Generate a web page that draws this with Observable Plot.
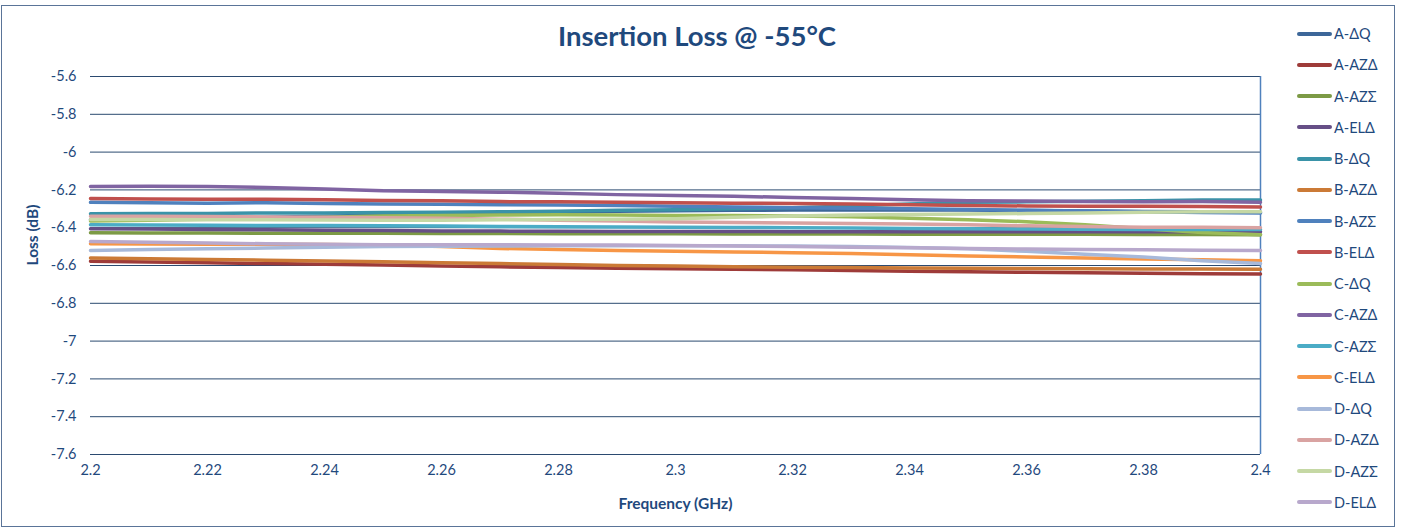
<!DOCTYPE html>
<html>
<head>
<meta charset="utf-8">
<script src="https://cdn.jsdelivr.net/npm/d3@7"></script>
<script src="https://cdn.jsdelivr.net/npm/@observablehq/plot@0.6"></script>
<style>
  html, body { margin: 0; padding: 0; background: #fff; }
  #wrap { position: relative; width: 1406px; height: 529px; overflow: hidden; font-family: Lato, "Noto Sans", sans-serif; }
  #frame { position: absolute; left: 1px; top: 5px; width: 1394px; height: 522px; border: 1px solid #5a7498; box-sizing: border-box; }
  #title { position: absolute; left: 0; width: 1394px; top: 19px; text-align: center; font-weight: bold; font-size: 27.5px; color: #1F497D; }
  #chart { position: absolute; left: 0; top: 0; }
  #legend { position: absolute; left: 1297px; top: 18px; }
  .item { height: 31.25px; display: flex; align-items: center; font-size: 14.5px; color: #1F497D; }
  .sw { width: 35px; height: 4px; border-radius: 2px; margin-right: 2px; }
</style>
</head>
<body>
<div id="wrap">
  <div id="frame"></div>
  <div id="chart"></div>
  <div id="title">Insertion Loss @ -55°C</div>
  <div id="legend"></div>
</div>
<script>
const freq = [2.20,2.21,2.22,2.23,2.24,2.25,2.26,2.27,2.28,2.29,2.30,2.31,2.32,2.33,2.34,2.35,2.36,2.37,2.38,2.39,2.40];

const seriesNames = ["A-ΔQ","A-AZΔ","A-AZΣ","A-ELΔ","B-ΔQ","B-AZΔ","B-AZΣ","B-ELΔ","C-ΔQ","C-AZΔ","C-AZΣ","C-ELΔ","D-ΔQ","D-AZΔ","D-AZΣ","D-ELΔ"];
const seriesColors = ["#3D6799","#9E3B39","#7C9A45","#664F86","#3A93A8","#CB7A36","#4F81BD","#C0504D","#9BBB59","#8064A2","#4BACC6","#F79646","#A7B9DA","#D9A3A2","#C5D8A4","#B8A8CC"];

const A_dQ   = [-6.358,-6.355,-6.350,-6.345,-6.340,-6.333,-6.328,-6.322,-6.318,-6.313,-6.310,-6.308,-6.307,-6.306,-6.306,-6.307,-6.309,-6.311,-6.314,-6.316,-6.318];
const A_AZd  = [-6.578,-6.582,-6.585,-6.590,-6.594,-6.598,-6.603,-6.607,-6.610,-6.614,-6.617,-6.620,-6.623,-6.627,-6.630,-6.633,-6.636,-6.638,-6.641,-6.643,-6.645];
const A_AZs  = [-6.427,-6.428,-6.428,-6.429,-6.430,-6.430,-6.431,-6.431,-6.432,-6.432,-6.432,-6.433,-6.433,-6.433,-6.434,-6.434,-6.435,-6.435,-6.436,-6.436,-6.437];
const A_ELd  = [-6.406,-6.407,-6.409,-6.411,-6.413,-6.415,-6.417,-6.418,-6.419,-6.420,-6.420,-6.420,-6.421,-6.421,-6.421,-6.421,-6.421,-6.422,-6.422,-6.422,-6.422];
const B_dQ   = [-6.326,-6.325,-6.325,-6.322,-6.322,-6.320,-6.318,-6.316,-6.313,-6.308,-6.305,-6.300,-6.295,-6.285,-6.275,-6.266,-6.263,-6.260,-6.257,-6.254,-6.253];
const B_AZd  = [-6.560,-6.564,-6.568,-6.572,-6.576,-6.580,-6.585,-6.590,-6.595,-6.600,-6.603,-6.606,-6.609,-6.611,-6.613,-6.615,-6.616,-6.617,-6.618,-6.619,-6.620];
const B_AZs  = [-6.266,-6.268,-6.270,-6.268,-6.272,-6.274,-6.276,-6.278,-6.280,-6.283,-6.286,-6.290,-6.294,-6.297,-6.300,-6.304,-6.308,-6.312,-6.316,-6.320,-6.322];
const B_ELd  = [-6.245,-6.248,-6.250,-6.249,-6.252,-6.256,-6.258,-6.262,-6.263,-6.266,-6.268,-6.270,-6.272,-6.275,-6.278,-6.282,-6.285,-6.287,-6.286,-6.288,-6.290];
const C_dQ   = [-6.365,-6.360,-6.355,-6.350,-6.345,-6.338,-6.335,-6.333,-6.332,-6.333,-6.335,-6.336,-6.338,-6.342,-6.350,-6.358,-6.368,-6.385,-6.405,-6.425,-6.437];
const C_AZd  = [-6.182,-6.181,-6.182,-6.187,-6.195,-6.205,-6.208,-6.212,-6.218,-6.225,-6.230,-6.234,-6.240,-6.246,-6.252,-6.258,-6.259,-6.262,-6.263,-6.262,-6.265];
const C_AZs  = [-6.385,-6.386,-6.387,-6.388,-6.389,-6.390,-6.391,-6.393,-6.395,-6.396,-6.397,-6.399,-6.400,-6.402,-6.404,-6.406,-6.407,-6.408,-6.409,-6.410,-6.410];
const C_ELd  = [-6.485,-6.486,-6.487,-6.488,-6.489,-6.492,-6.500,-6.510,-6.515,-6.520,-6.525,-6.528,-6.532,-6.537,-6.543,-6.550,-6.555,-6.560,-6.565,-6.570,-6.575];
const D_dQ   = [-6.520,-6.516,-6.512,-6.508,-6.504,-6.500,-6.498,-6.497,-6.496,-6.495,-6.495,-6.496,-6.497,-6.500,-6.505,-6.512,-6.525,-6.540,-6.555,-6.575,-6.590];
const D_AZd  = [-6.340,-6.340,-6.341,-6.343,-6.345,-6.347,-6.350,-6.355,-6.360,-6.365,-6.370,-6.372,-6.375,-6.378,-6.380,-6.385,-6.390,-6.394,-6.397,-6.398,-6.400];
const D_AZs  = [-6.356,-6.357,-6.358,-6.358,-6.359,-6.360,-6.360,-6.358,-6.356,-6.355,-6.352,-6.345,-6.338,-6.333,-6.330,-6.328,-6.325,-6.322,-6.318,-6.316,-6.315];
const D_ELd  = [-6.473,-6.477,-6.481,-6.485,-6.488,-6.490,-6.490,-6.490,-6.491,-6.492,-6.494,-6.497,-6.500,-6.503,-6.506,-6.510,-6.513,-6.515,-6.517,-6.519,-6.520];

const yTicks = [-5.6,-5.8,-6,-6.2,-6.4,-6.6,-6.8,-7,-7.2,-7.4,-7.6];
const xTicks = [2.2,2.22,2.24,2.26,2.28,2.3,2.32,2.34,2.36,2.38,2.4];

const allSeries = [A_dQ,A_AZd,A_AZs,A_ELd,B_dQ,B_AZd,B_AZs,B_ELd,C_dQ,C_AZd,C_AZs,C_ELd,D_dQ,D_AZd,D_AZs,D_ELd];
const rows = [];
allSeries.forEach((vals, i) => vals.forEach((v, j) => rows.push({series: seriesNames[i], f: freq[j], loss: v})));

const txt = "#1F497D";
const chart = Plot.plot({
  width: 1290,
  height: 529,
  marginLeft: 90,
  marginRight: 30,
  marginTop: 76,
  marginBottom: 75,
  style: {fontFamily: 'Lato, "Noto Sans", sans-serif', fontSize: "14.5px", color: txt, background: "transparent"},
  x: {domain: [2.2, 2.4]},
  y: {domain: [-7.6, -5.6]},
  color: {domain: seriesNames, range: seriesColors},
  marks: [
    Plot.ruleY(yTicks, {stroke: "#2B4A70", strokeWidth: 1}),
    Plot.ruleX([2.4], {stroke: "#4F81BD", strokeWidth: 1.5}),
    Plot.line(rows, {x: "f", y: "loss", z: "series", stroke: "series", strokeWidth: 3.5, strokeLinejoin: "round"}),
    Plot.axisY({ticks: yTicks, tickSize: 0, tickPadding: 14, tickFormat: d => String(+d.toFixed(1)), label: null, fill: txt}),
    Plot.axisX({ticks: xTicks, tickSize: 0, tickPadding: 10, tickFormat: d => String(+d.toFixed(2)), label: null, fill: txt}),
    Plot.text(["Frequency (GHz)"], {frameAnchor: "bottom", dy: 54, fontWeight: "bold", fontSize: 15.5, fill: txt}),
    Plot.text(["Loss (dB)"], {frameAnchor: "left", dx: -57, rotate: -90, fontWeight: "bold", fontSize: 15.5, fill: txt})
  ]
});
document.getElementById("chart").appendChild(chart);

const legend = document.getElementById("legend");
seriesNames.forEach((n, i) => {
  const item = document.createElement("div");
  item.className = "item";
  item.innerHTML = `<span class="sw" style="background:${seriesColors[i]}"></span><span>${n}</span>`;
  legend.appendChild(item);
});
</script>
</body>
</html>
